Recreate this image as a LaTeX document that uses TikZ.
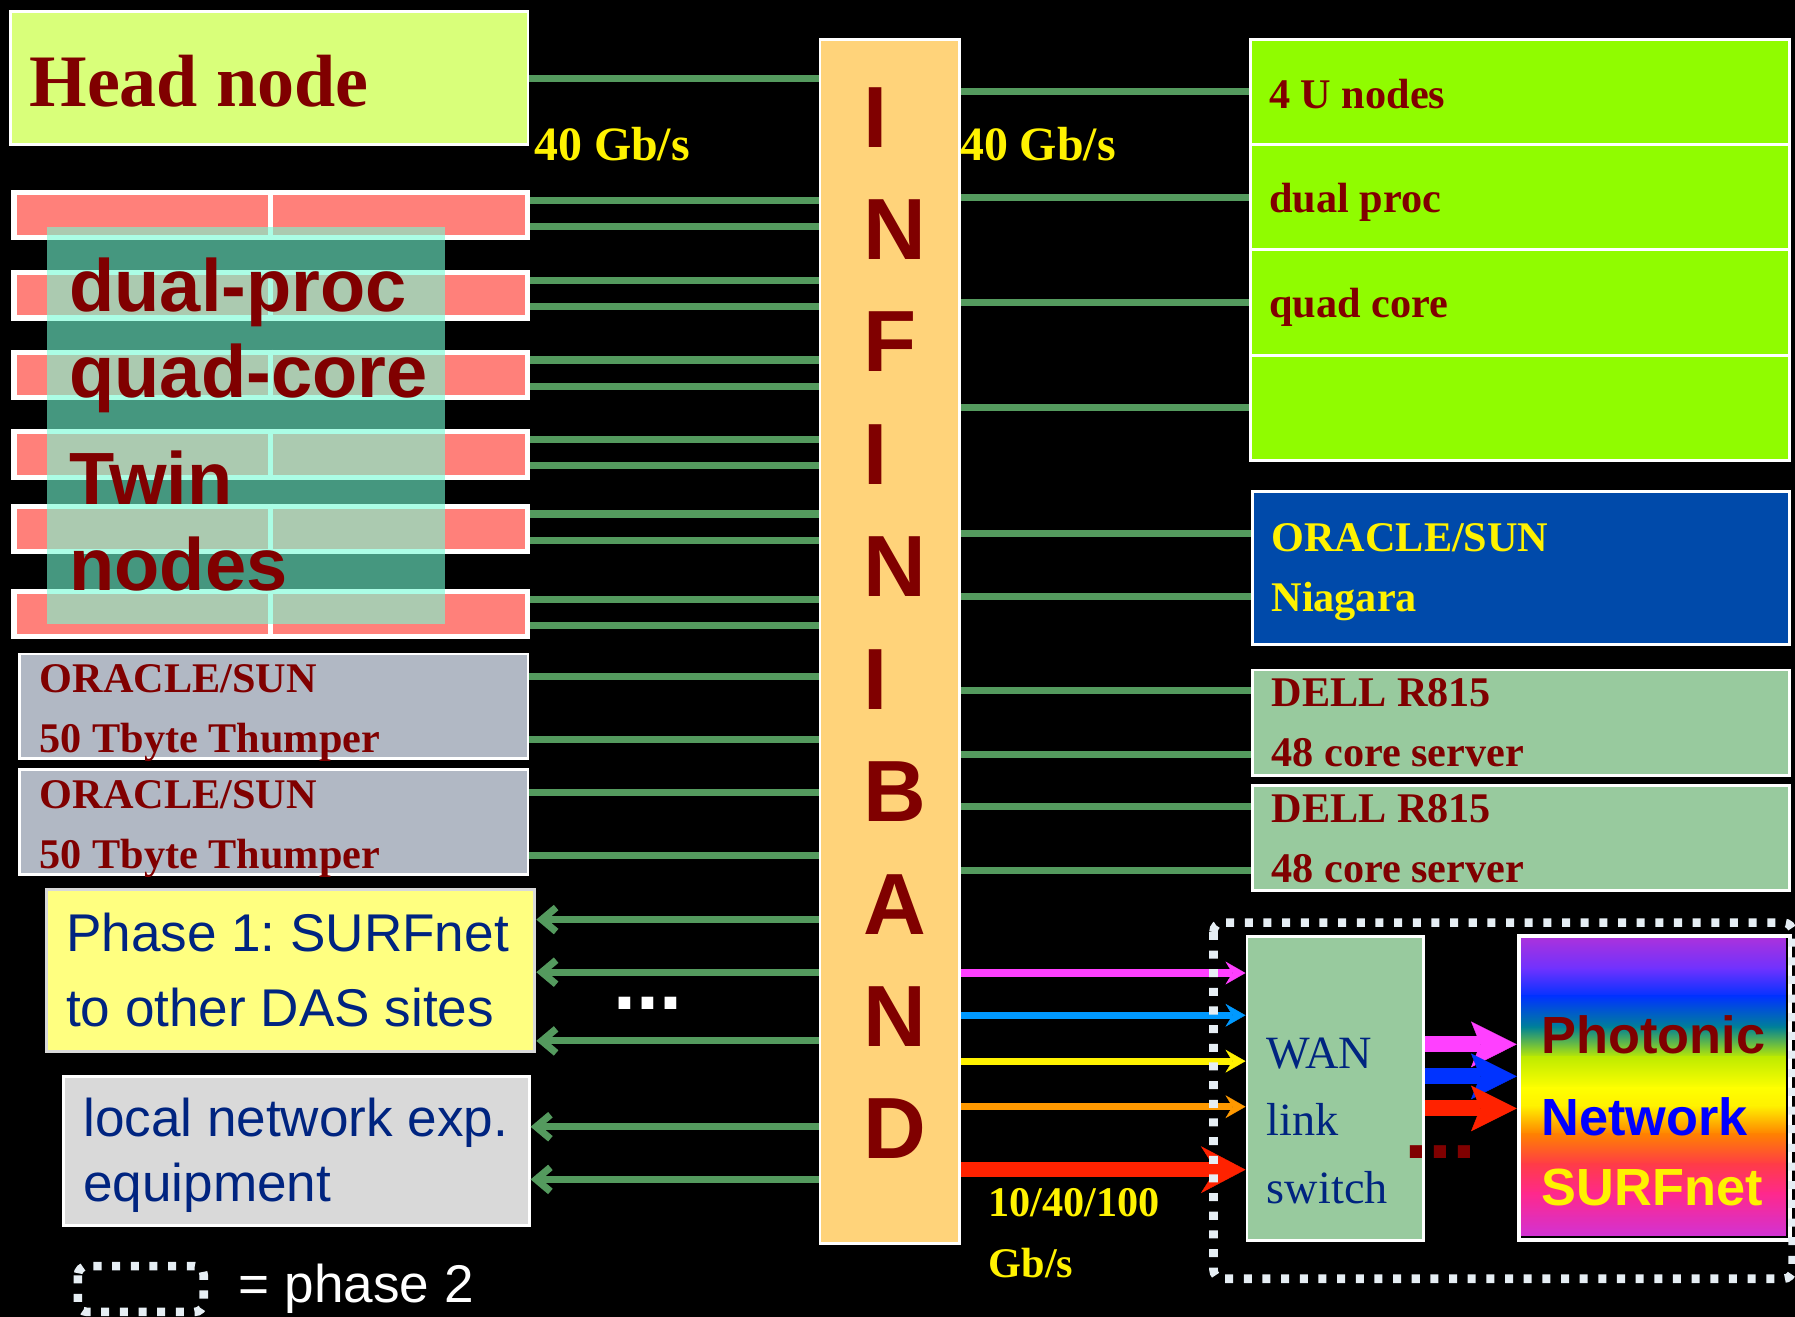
\documentclass[tikz,border=0pt]{standalone}
\usepackage{fontspec}
\setmainfont{Liberation Serif}
\setsansfont{Liberation Sans}
\frenchspacing
\usetikzlibrary{arrows.meta}
\definecolor{darkred}{RGB}{128,0,0}
\definecolor{navy}{RGB}{0,36,128}
\definecolor{linkgreen}{RGB}{84,154,94}
\definecolor{ibgold}{RGB}{255,211,122}
\definecolor{headgreen}{RGB}{217,255,122}
\definecolor{twinred}{RGB}{255,128,122}
\definecolor{glassteal}{RGB}{115,252,213}
\definecolor{sungray}{RGB}{177,184,196}
\definecolor{phaseyellow}{RGB}{255,255,128}
\definecolor{langray}{RGB}{217,217,217}
\definecolor{fourugreen}{RGB}{144,252,0}
\definecolor{sunblue}{RGB}{0,74,170}
\definecolor{dellgreen}{RGB}{152,202,158}
\definecolor{dotgray}{RGB}{230,238,244}
\definecolor{lmagenta}{RGB}{255,64,255}
\definecolor{lblue}{RGB}{0,153,255}
\definecolor{lorange}{RGB}{255,153,0}
\definecolor{lred}{RGB}{255,34,0}
\definecolor{pblue}{RGB}{0,51,255}
\definecolor{netblue}{RGB}{0,0,255}
\definecolor{g0}{RGB}{170,50,220}
\definecolor{g1}{RGB}{110,50,255}
\definecolor{g2}{RGB}{0,50,255}
\definecolor{g3}{RGB}{0,130,150}
\definecolor{g4}{RGB}{190,235,0}
\definecolor{g5}{RGB}{255,255,0}
\definecolor{g6}{RGB}{255,240,0}
\definecolor{g7}{RGB}{255,130,0}
\definecolor{g8}{RGB}{255,60,70}
\definecolor{g9}{RGB}{255,40,140}
\definecolor{g10}{RGB}{210,50,210}

\begin{document}
\begin{tikzpicture}[x=0.1mm,y=-0.1mm,
  box/.style={draw=white,line width=0.25mm,inner sep=0pt,anchor=north west},
  link/.style={draw=linkgreen,line width=0.62mm},
  feed/.style={link,-{Straight Barb[length=1.25mm,width=2.1mm]}},
  lambda/.style={line width=0.62mm,-{Stealth[length=1.75mm,width=2mm,inset=0.6mm,line width=0.1pt]}},
  fat/.style={line width=1.4mm,-{Stealth[length=4mm,width=4mm,inset=0.8mm,line width=0.1pt]}},
  txt/.style={anchor=base west,inner sep=0pt,text width=60mm,align=flush left},
  serifbig/.style={txt,font=\bfseries\fontsize{18.4}{22}\selectfont,text=darkred},
  serifbox/.style={txt,font=\bfseries\fontsize{10.5}{14.9}\selectfont,text=darkred},
  sansbox/.style={txt,font=\sffamily\fontsize{13.2}{18.8}\selectfont,text=navy},
  rate/.style={txt,font=\bfseries\fontsize{11.9}{15.1}\selectfont,text=yellow},
  ibl/.style={anchor=base west,inner sep=0pt,font=\sffamily\bfseries\fontsize{21.6}{26}\selectfont,text=darkred},
  glass/.style={fill=glassteal,fill opacity=0.6},
  phasetwo/.style={draw=dotgray,line width=0.75mm,dash pattern=on 0.7mm off 0.93mm,rounded corners=0.8mm},
]
\useasboundingbox (0,0) rectangle (1568,1150);
\fill[black] (0,0) rectangle (1568,1150);

% infiniband switch
\node[box,fill=ibgold,minimum width=12.2mm,minimum height=105.2mm] (ib) at (715,33) {};
\foreach \l [count=\i from 0] in {I,N,F,I,N,I,B,A,N,D}
  \node[ibl] (ib\i) at (754,128.5+98.2*\i) {\l};

% head node
\node[box,fill=headgreen,minimum width=45.2mm,minimum height=11.6mm] (head) at (8,9) {};
\node[serifbig] (head-t) at (25,93) {Head node};
\draw[link] (head.east) -- (head.east -| ib.west);

% twin nodes
\foreach \y [count=\i] in {188,258,327.5,397,462,536.5} {
  \node[draw=white,line width=0.45mm,fill=twinred,minimum width=44.85mm,minimum height=3.95mm,inner sep=0pt] (tw\i) at (236.5,\y) {};
  \draw[white,line width=0.45mm] (tw\i.north) -- (tw\i.south);
  \draw[link] ([yshift=1.3mm]tw\i.east) -- ([yshift=1.3mm]tw\i.east -| ib.west);
  \draw[link] ([yshift=-1mm]tw\i.east) -- ([yshift=-1mm]tw\i.east -| ib.west);
}
\fill[glass] (41,198) rectangle (389,545);
\node[txt,font=\sffamily\bfseries\fontsize{18.4}{21.3}\selectfont,text=darkred] (twin-t) at (60,272)
  {dual-proc\\quad-core\\[1.9mm]Twin\\nodes};

% storage
\node[box,fill=sungray,minimum width=44.4mm,minimum height=9.1mm] (sun1) at (16,570) {};
\node[box,fill=sungray,minimum width=44.4mm,minimum height=9.2mm] (sun2) at (16,671) {};
\node[serifbox] (sun1-t) at (34,605) {ORACLE/SUN\\50 Tbyte Thumper};
\node[serifbox] (sun2-t) at (34,706) {ORACLE/SUN\\50 Tbyte Thumper};
\foreach \n in {sun1,sun2} {
  \draw[link] ([yshift=2.6mm]\n.east) -- ([yshift=2.6mm]\n.east -| ib.west);
  \draw[link] ([yshift=-2.9mm]\n.east) -- ([yshift=-2.9mm]\n.east -| ib.west);
}

% wide area, phase 1
\node[box,draw=black!15,fill=phaseyellow,minimum width=42.7mm,minimum height=14.1mm] (phase) at (39,776) {};
\node[sansbox] (phase-t) at (57,831) {Phase 1: SURFnet\\to other DAS sites};
\foreach \s in {4.45mm,-0.15mm,-6.15mm}
  \draw[feed] ([yshift=\s]phase.east -| ib.west) -- ([yshift=\s]phase.east);
\node[txt,font=\sffamily\bfseries\fontsize{20.5}{24}\selectfont,text=white] (more) at (535,882) {...};

% local equipment
\node[box,fill=langray,minimum width=40.7mm,minimum height=13mm] (lan) at (54,939) {};
\node[txt,font=\sffamily\fontsize{13.2}{16.2}\selectfont,text=navy] (lan-t) at (72,993) {local network exp.\\equipment};
\foreach \s in {2.1mm,-2.5mm}
  \draw[feed] ([yshift=\s]lan.east -| ib.west) -- ([yshift=\s]lan.east);

% legend
\draw[phasetwo] (68,1106) rectangle (178,1146);
\node[txt,font=\sffamily\fontsize{13.2}{16}\selectfont,text=white] (key-t) at (208,1138) {= phase 2};

% 4U nodes
\foreach \i in {1,...,4} {
  \node[box,fill=fourugreen,minimum width=47.1mm,minimum height=9.2mm] (u\i) at (1091,{33+92*(\i-1)}) {};
  \draw[link] (u\i.west -| ib.east) -- (u\i.west);
}
\foreach \i/\t in {1/4 U nodes,2/dual proc,3/quad core}
  \node[serifbox] (u\i-t) at (1108,{95+91*(\i-1)}) {\t};

% niagara and dell
\node[box,fill=sunblue,minimum width=46.9mm,minimum height=13.4mm] (sun3) at (1093,428) {};
\node[serifbox,text=yellow] (sun3-t) at (1110,482) {ORACLE/SUN\\Niagara};
\draw[link] ([yshift=3mm]sun3.west -| ib.east) -- ([yshift=3mm]sun3.west);
\draw[link] ([yshift=-2.5mm]sun3.west -| ib.east) -- ([yshift=-2.5mm]sun3.west);
\node[box,fill=dellgreen,minimum width=46.9mm,minimum height=9.2mm] (dell1) at (1093,584) {};
\node[box,fill=dellgreen,minimum width=46.9mm,minimum height=9.2mm] (dell2) at (1093,685) {};
\node[serifbox] (dell1-t) at (1110,617) {DELL R815\\48 core server};
\node[serifbox] (dell2-t) at (1110,718.5) {DELL R815\\48 core server};
\foreach \n in {dell1,dell2} {
  \draw[link] ([yshift=2.8mm]\n.west -| ib.east) -- ([yshift=2.8mm]\n.west);
  \draw[link] ([yshift=-2.8mm]\n.west -| ib.east) -- ([yshift=-2.8mm]\n.west);
}

% wan link switch
\node[box,fill=dellgreen,minimum width=15.4mm,minimum height=26.5mm] (wan) at (1088,817) {};
\node[txt,font=\fontsize{11.5}{16.8}\selectfont,text=navy] (wan-t) at (1106,933) {WAN\\link\\switch};
\foreach \s/\c in {10.08mm/lmagenta,6.39mm/lblue,2.38mm/yellow,-1.6mm/lorange}
  \draw[lambda,\c] ([yshift=\s]wan.west -| ib.east) -- ([yshift=\s]wan.west);
\draw[line width=1.35mm,lred,-{Stealth[length=3.9mm,width=4.1mm,inset=1.3mm,line width=0.1pt]}]
  ([yshift=-7.1mm]wan.west -| ib.east) -- ([yshift=-7.1mm]wan.west);
\node[rate] (rate1) at (466,140) {40 Gb/s};
\node[rate] (rate2) at (838,140) {40 Gb/s};
\node[rate,font=\bfseries\fontsize{10.5}{15.1}\selectfont] (rate3) at (863,1063) {10/40/100\\Gb/s};

% photonic network
\foreach \ya/\yb/\ca/\cb in {819/846/g0/g1,846/870/g1/g2,870/897/g2/g3,897/923/g3/g4,923/950/g4/g5,
    950/966/g5/g6,966/990/g6/g7,990/1016/g7/g8,1016/1042/g8/g9,1042/1078/g9/g10}
  \shade[top color=\ca,bottom color=\cb] (1327,\ya) rectangle (1560,\yb+1);
\node[box,line width=0.35mm,minimum width=23.7mm,minimum height=26.5mm] (pho) at (1325,816) {};
\node[txt,font=\sffamily\bfseries\fontsize{13}{17.4}\selectfont] (pho-t) at (1346,920)
  {\color{darkred}Photonic\\[1.1mm]\color{netblue}Network\\\color{yellow}SURFnet};
\foreach \s/\c in {3.85mm/lmagenta,1.05mm/pblue,-1.75mm/lred}
  \draw[fat,\c] ([yshift=\s]wan.east) -- ([yshift=\s]wan.east -| pho.west);
\node[txt,font=\sffamily\bfseries\fontsize{21.4}{25}\selectfont,text=darkred] (more2) at (1226,1012) {...};

% phase 2 area
\draw[phasetwo] (1060,806) rectangle (1566,1117);
\end{tikzpicture}
\end{document}
